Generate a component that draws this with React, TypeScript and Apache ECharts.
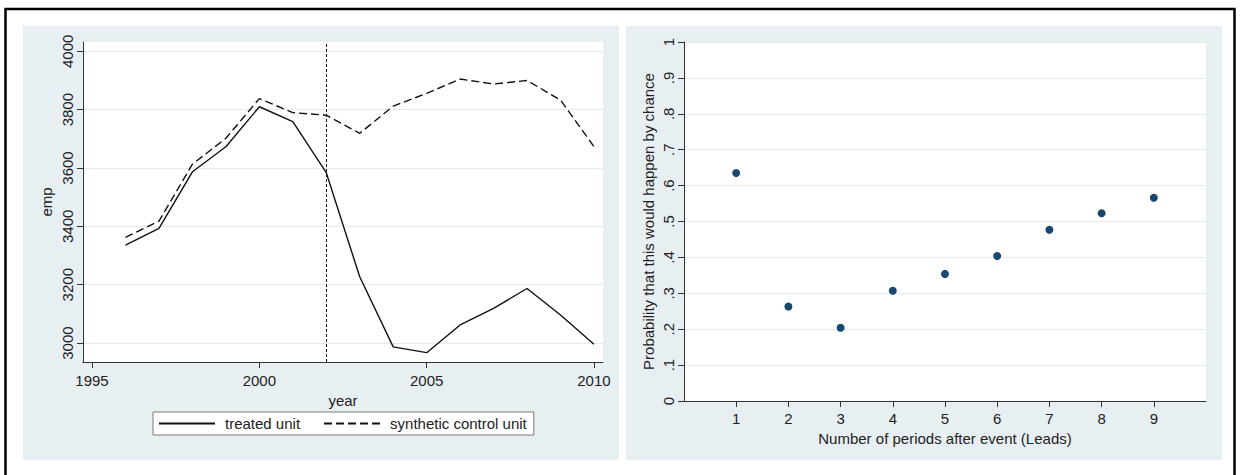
import React, { useEffect, useRef } from "react";
import * as echarts from "echarts";

const years = [1996, 1997, 1998, 1999, 2000, 2001, 2002, 2003, 2004, 2005, 2006, 2007, 2008, 2009, 2010];
const treated = [3336, 3393, 3587, 3673, 3810, 3759, 3584, 3227, 2987, 2967, 3062, 3119, 3187, 3096, 2996];
const synthetic = [3362, 3418, 3613, 3702, 3838, 3790, 3781, 3719, 3812, 3856, 3905, 3888, 3900, 3833, 3673];
const eventYear = 2002;
const yearTicks = [1995, 2000, 2005, 2010];
const empTicks = [3000, 3200, 3400, 3600, 3800, 4000];
const leads = [1, 2, 3, 4, 5, 6, 7, 8, 9];
const probabilities = [0.635, 0.263, 0.204, 0.307, 0.354, 0.404, 0.477, 0.523, 0.566];

const FONT = "'Liberation Sans', Arial, sans-serif";
const TXT = "#222";
const AXIS = "#333";
const GRIDC = "#e2ebee";
const BG = "#e8eff2";
const FS = 15;

export default function App() {
  const ref = useRef<HTMLDivElement>(null);
  useEffect(() => {
    document.body.style.margin = "0";
    if (!ref.current) return;
    const chart = echarts.init(ref.current, null, { renderer: "svg" });
    const axisLine = { show: true, lineStyle: { color: AXIS, width: 1 } };
    const axisTickBase = { show: true, length: 6, lineStyle: { color: AXIS, width: 1 } };
    const labelBase = { color: TXT, fontSize: FS, fontFamily: FONT };
    const nameStyle = { color: TXT, fontSize: FS, fontFamily: FONT };
    const plain = (v: number) => String(v);
    chart.setOption({
      animation: false,
      textStyle: { fontFamily: FONT },
      graphic: [
        { type: "rect", z: -10, shape: { x: 23, y: 26, width: 596, height: 434 }, style: { fill: BG } },
        { type: "rect", z: -10, shape: { x: 626, y: 26, width: 596, height: 434 }, style: { fill: BG } },
        { type: "rect", z: 100, shape: { x: 5.5, y: 9, width: 1229, height: 480 }, style: { fill: "none", stroke: "#000", lineWidth: 2.5 } },
      ],
      legend: {
        left: 153,
        top: 412,
        padding: [4, 7, 4, 5],
        itemWidth: 56,
        itemHeight: 16,
        itemGap: 23,
        backgroundColor: "#fff",
        borderColor: "#7a7a7a",
        borderWidth: 1,
        itemStyle: { opacity: 0 },
        textStyle: { ...labelBase, padding: [0, 0, 0, 5] },
        data: ["treated unit", "synthetic control unit"],
      },
      grid: [
        { left: 83, top: 42, width: 520, height: 320, show: true, backgroundColor: "#fff", borderWidth: 0 },
        { left: 684, top: 42, width: 522, height: 359, show: true, backgroundColor: "#fff", borderWidth: 0 },
      ],
      xAxis: [
        {
          type: "value", gridIndex: 0, min: 1994.73, max: 2010.27,
          name: "year", nameLocation: "middle", nameGap: 24, nameTextStyle: nameStyle,
          axisLine, axisTick: { ...axisTickBase, customValues: yearTicks },
          axisLabel: { ...labelBase, margin: 11, customValues: yearTicks, formatter: plain },
          splitLine: { show: false },
        },
        {
          type: "value", gridIndex: 1, min: 0, max: 10, interval: 1,
          name: "Number of periods after event (Leads)", nameLocation: "middle", nameGap: 24, nameTextStyle: nameStyle,
          axisLine, axisTick: { ...axisTickBase, customValues: leads },
          axisLabel: { ...labelBase, margin: 10, customValues: leads, formatter: plain },
          splitLine: { show: false },
        },
      ],
      yAxis: [
        {
          type: "value", gridIndex: 0, min: 2935, max: 4032,
          name: "emp", nameLocation: "middle", nameGap: 29, nameTextStyle: nameStyle,
          axisLine, axisTick: { ...axisTickBase, customValues: empTicks },
          axisLabel: { ...labelBase, rotate: 90, margin: 8, customValues: empTicks, formatter: plain },
          splitLine: { show: true, lineStyle: { color: GRIDC, width: 1 } },
        },
        {
          type: "value", gridIndex: 1, min: 0, max: 1, interval: 0.1,
          name: "Probability that this would happen by chance", nameLocation: "middle", nameGap: 28, nameTextStyle: nameStyle,
          axisLine, axisTick: axisTickBase,
          axisLabel: {
            ...labelBase, rotate: 90, margin: 8,
            formatter: (v: number) => {
              const r = Math.round(v * 10) / 10;
              if (r === 0) return "0";
              if (r === 1) return "1";
              return "." + Math.round(r * 10);
            },
          },
          splitLine: { show: true, lineStyle: { color: GRIDC, width: 1 } },
        },
      ],
      series: [
        {
          name: "treated unit", type: "line", xAxisIndex: 0, yAxisIndex: 0,
          data: years.map((y, i) => [y, treated[i]]),
          symbol: "none", lineStyle: { color: "#111", width: 1.4 }, itemStyle: { color: "#111" },
          markLine: {
            silent: true, symbol: ["none", "none"], label: { show: false },
            lineStyle: { color: "#111", type: [3, 2], width: 1 },
            data: [{ xAxis: eventYear }],
          },
        },
        {
          name: "synthetic control unit", type: "line", xAxisIndex: 0, yAxisIndex: 0,
          data: years.map((y, i) => [y, synthetic[i]]),
          symbol: "none", lineStyle: { color: "#111", width: 1.4, type: [8, 4] }, itemStyle: { color: "#111" },
        },
        {
          name: "probability", type: "scatter", xAxisIndex: 1, yAxisIndex: 1,
          data: leads.map((l, i) => [l, probabilities[i]]),
          symbolSize: 8, itemStyle: { color: "#1a476f", opacity: 1 },
        },
      ],
    });
    return () => chart.dispose();
  }, []);
  return <div ref={ref} style={{ width: 1241, height: 475 }} />;
}
